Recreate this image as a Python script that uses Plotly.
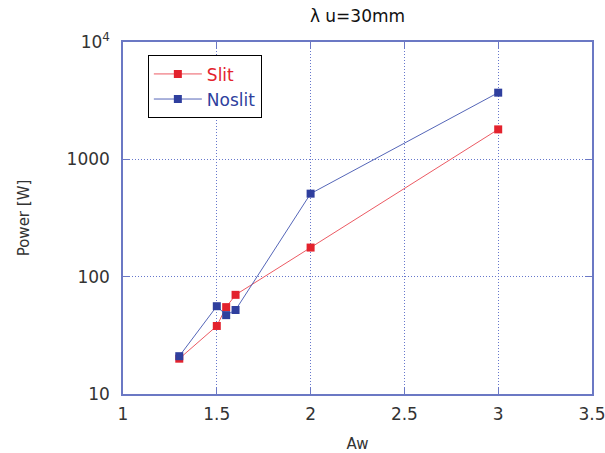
import plotly.graph_objects as go

# Undulator power vs. Aw, for the slit and no-slit cases
aw_slit = [1.3, 1.5, 1.55, 1.6, 2.0, 3.0]
power_slit = [20, 38, 55, 70, 177, 1800]

aw_noslit = [1.3, 1.5, 1.55, 1.6, 2.0, 3.0]
power_noslit = [21, 56, 47, 52, 510, 3700]

y_tickvals = [10, 100, 1000, 10000]
y_ticktext = ["10", "100", "1000", "10<sup>4</sup>"]
x_tickvals = [1, 1.5, 2, 2.5, 3, 3.5]
x_ticktext = ["1", "1.5", "2", "2.5", "3", "3.5"]

RED = "#e3222d"
RED_LINE = "#ec5a63"
BLUE = "#2f3f9e"
BLUE_LINE = "#5566b8"
AXIS = "#6b78c4"
GRID = "#6677cc"
FONT = "DejaVu Sans, sans-serif"
TEXT = "#333333"

fig = go.Figure()
fig.add_trace(go.Scatter(
    x=aw_slit, y=power_slit, mode="lines+markers",
    name=f"<span style='color:{RED}'>Slit</span>",
    line=dict(color=RED_LINE, width=1),
    marker=dict(symbol="square", size=8, color=RED),
))
fig.add_trace(go.Scatter(
    x=aw_noslit, y=power_noslit, mode="lines+markers",
    name=f"<span style='color:{BLUE}'>Noslit</span>",
    line=dict(color=BLUE_LINE, width=1),
    marker=dict(symbol="square", size=8, color=BLUE),
))

fig.update_layout(
    width=605, height=453,
    margin=dict(l=123, r=13, t=42, b=59),
    paper_bgcolor="white", plot_bgcolor="white",
    font=dict(family=FONT, size=17, color=TEXT),
    title=dict(text="λ u=30mm", x=(123 + 592) / 2 / 605, xanchor="center",
               y=1 - 16 / 453, yanchor="middle",
               font=dict(size=17, color="#111111")),
    showlegend=True,
    legend=dict(x=0.053, y=0.962, xanchor="left", yanchor="top",
                bordercolor="black", borderwidth=1, bgcolor="white",
                font=dict(size=17), tracegroupgap=0, itemwidth=48),
    xaxis=dict(
        title=dict(text="Aw", font=dict(size=15, color=TEXT), standoff=16),
        range=[1, 3.5], tickvals=x_tickvals, ticktext=x_ticktext,
        automargin=False, ticklabelstandoff=4, ticklabeloverflow="allow",
        showline=True, linecolor=AXIS, linewidth=1.5, mirror="ticks",
        ticks="inside", ticklen=6, tickcolor=AXIS,
        showgrid=True, gridcolor=GRID, griddash="1px,2px", gridwidth=1,
        zeroline=False,
    ),
    yaxis=dict(
        title=dict(text="Power [W]", font=dict(size=15, color=TEXT), standoff=33),
        type="log", range=[1, 4], tickvals=y_tickvals, ticktext=y_ticktext,
        automargin=False, ticklabelstandoff=8, ticklabeloverflow="allow",
        showline=True, linecolor=AXIS, linewidth=1.5, mirror="ticks",
        ticks="inside", ticklen=6, tickcolor=AXIS,
        showgrid=True, gridcolor=GRID, griddash="1px,2px", gridwidth=1,
        zeroline=False,
    ),
)

fig.write_html("out.html")
